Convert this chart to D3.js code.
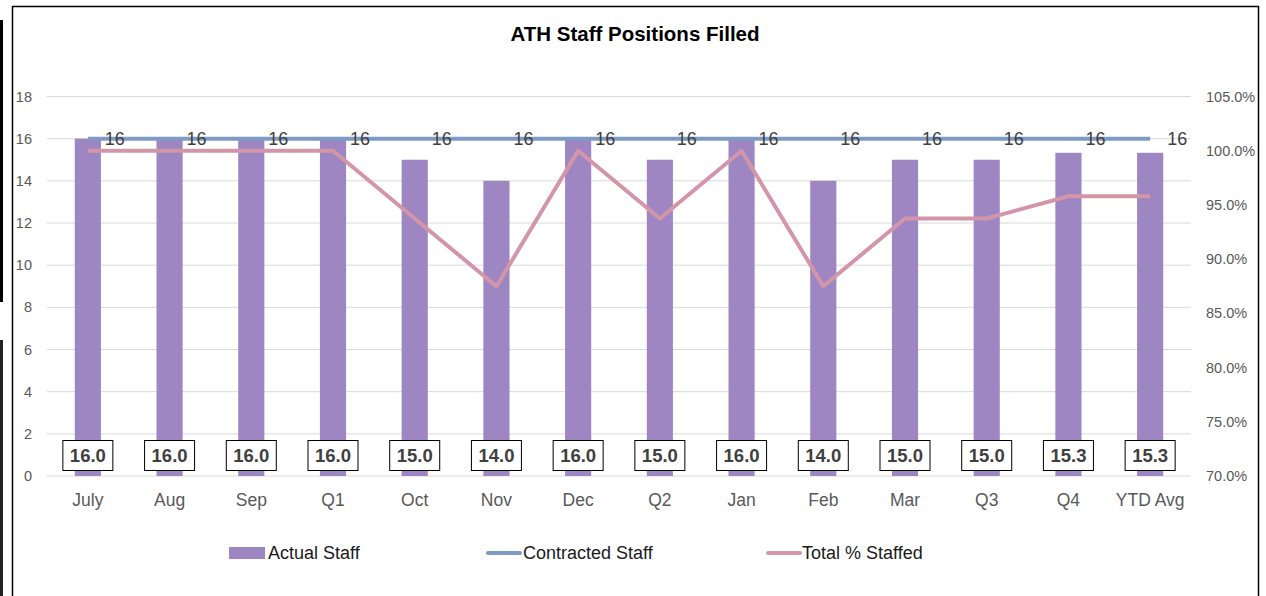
<!DOCTYPE html>
<html>
<head>
<meta charset="utf-8">
<script src="https://cdn.jsdelivr.net/npm/d3@7"></script>
<style>
  body { margin: 0; background: #fff; }
  svg { display: block; font-family: "Liberation Sans", Arial, sans-serif; }
</style>
</head>
<body>
<div id="chart"></div>
<script>
// data
const categories = ["July", "Aug", "Sep", "Q1", "Oct", "Nov", "Dec", "Q2", "Jan", "Feb", "Mar", "Q3", "Q4", "YTD Avg"];
const actualStaff = [16, 16, 16, 16, 15, 14, 16, 15, 16, 14, 15, 15, 15.33, 15.33];
const contractedStaff = [16, 16, 16, 16, 16, 16, 16, 16, 16, 16, 16, 16, 16, 16];
const pctStaffed = [1, 1, 1, 1, 0.9375, 0.875, 1, 0.9375, 1, 0.875, 0.9375, 0.9375, 0.958, 0.958];
const leftTicks = [0, 2, 4, 6, 8, 10, 12, 14, 16, 18];
const rightTicks = [0.70, 0.75, 0.80, 0.85, 0.90, 0.95, 1.00, 1.05];

const W = 1266, H = 596;
const plot = {left: 47, right: 1191, top: 96.5, bottom: 476};

const svg = d3.select("#chart").append("svg")
    .attr("width", W)
    .attr("height", H);

// stray edge lines from the screenshot
svg.append("rect").attr("x", 0).attr("y", 20).attr("width", 3).attr("height", 282).attr("fill", "#000");
svg.append("rect").attr("x", 0).attr("y", 340).attr("width", 3).attr("height", 256).attr("fill", "#222");

// chart border
svg.append("rect")
    .attr("x", 12.5).attr("y", 6.5)
    .attr("width", 1246).attr("height", 600)
    .attr("fill", "#fff")
    .attr("stroke", "#000")
    .attr("stroke-width", 1.5);

svg.append("text")
    .attr("x", 635).attr("y", 41)
    .attr("text-anchor", "middle")
    .attr("font-size", 20.5)
    .attr("font-weight", "bold")
    .attr("fill", "#000")
    .text("ATH Staff Positions Filled");

let x = d3.scaleBand()
    .domain(categories)
    .range([plot.left, plot.right])
    .paddingInner(0.68)
    .paddingOuter(0.34);

let y = d3.scaleLinear()
    .domain([0, 18])
    .range([plot.bottom, plot.top]);

let y2 = d3.scaleLinear()
    .domain([0.70, 1.05])
    .range([plot.bottom, plot.top]);

const cx = d => x(d) + x.bandwidth() / 2;

// gridlines
svg.append("g")
    .selectAll("line")
    .data(leftTicks)
    .enter().append("line")
    .attr("x1", plot.left).attr("x2", plot.right)
    .attr("y1", d => y(d)).attr("y2", d => y(d))
    .attr("stroke", "#d9d9d9")
    .attr("stroke-width", 1);

// left axis
let leftAxis = svg.append("g")
    .attr("transform", "translate(" + 32 + ",0)")
    .call(d3.axisLeft(y).tickValues(leftTicks).tickSize(0).tickPadding(0));
leftAxis.select(".domain").remove();
leftAxis.selectAll("text")
    .attr("font-size", 14.5)
    .attr("fill", "#595959")
    .attr("font-family", "Liberation Sans, Arial, sans-serif");

// right axis
let rightAxis = svg.append("g")
    .attr("transform", "translate(" + 1206 + ",0)")
    .call(d3.axisRight(y2).tickValues(rightTicks).tickSize(0).tickPadding(0).tickFormat(d3.format(".1%")));
rightAxis.select(".domain").remove();
rightAxis.selectAll("text")
    .attr("font-size", 14.5)
    .attr("fill", "#595959")
    .attr("font-family", "Liberation Sans, Arial, sans-serif");

// x axis labels
let xAxis = svg.append("g")
    .attr("transform", "translate(0," + 494 + ")")
    .call(d3.axisBottom(x).tickSize(0).tickPadding(0));
xAxis.select(".domain").remove();
xAxis.selectAll("text")
    .attr("font-size", 17.5)
    .attr("fill", "#595959")
    .attr("font-family", "Liberation Sans, Arial, sans-serif");

// bars
svg.append("g")
    .selectAll("rect")
    .data(categories)
    .enter().append("rect")
    .attr("x", d => x(d))
    .attr("width", x.bandwidth())
    .attr("y", (d, i) => y(actualStaff[i]))
    .attr("height", (d, i) => y(0) - y(actualStaff[i]))
    .attr("fill", "#9e86c2");

// contracted line
let line = d3.line()
    .x((d, i) => cx(categories[i]))
    .y(d => y(d));

svg.append("path")
    .datum(contractedStaff)
    .attr("d", line)
    .attr("fill", "none")
    .attr("stroke", "#7d9bc5")
    .attr("stroke-width", 4);

// percent line
let line2 = d3.line()
    .x((d, i) => cx(categories[i]))
    .y(d => y2(d));

svg.append("path")
    .datum(pctStaffed)
    .attr("d", line2)
    .attr("fill", "none")
    .attr("stroke", "#d396a9")
    .attr("stroke-width", 4)
    .attr("stroke-linejoin", "round");

// contracted labels
svg.append("g")
    .selectAll("text")
    .data(contractedStaff)
    .enter().append("text")
    .attr("x", (d, i) => cx(categories[i]) + 27)
    .attr("y", d => y(d) + 6.5)
    .attr("text-anchor", "middle")
    .attr("font-size", 18)
    .attr("fill", "#404040")
    .text(d => d);

// actual staff labels in boxes
let lbl = svg.append("g")
    .selectAll("g")
    .data(actualStaff)
    .enter().append("g")
    .attr("transform", (d, i) => "translate(" + cx(categories[i]) + "," + 455.5 + ")");

lbl.append("rect")
    .attr("x", -25).attr("y", -15)
    .attr("width", 50).attr("height", 30)
    .attr("fill", "#fff")
    .attr("stroke", "#000")
    .attr("stroke-width", 1);

lbl.append("text")
    .attr("y", 6.5)
    .attr("text-anchor", "middle")
    .attr("font-size", 18.5)
    .attr("font-weight", "bold")
    .attr("fill", "#404040")
    .text(d => d3.format(".1f")(d));

// legend
let legend = svg.append("g").attr("font-size", 18).attr("fill", "#1a1a1a");
legend.append("rect").attr("x", 229).attr("y", 547).attr("width", 36).attr("height", 12).attr("fill", "#9e86c2");
legend.append("text").attr("x", 268).attr("y", 559).text("Actual Staff");
legend.append("line").attr("x1", 488).attr("x2", 520).attr("y1", 553).attr("y2", 553)
    .attr("stroke", "#7d9bc5").attr("stroke-width", 4).attr("stroke-linecap", "round");
legend.append("text").attr("x", 523).attr("y", 559).text("Contracted Staff");
legend.append("line").attr("x1", 768).attr("x2", 800).attr("y1", 553).attr("y2", 553)
    .attr("stroke", "#d396a9").attr("stroke-width", 4).attr("stroke-linecap", "round");
legend.append("text").attr("x", 802).attr("y", 559).text("Total % Staffed");
</script>
</body>
</html>
